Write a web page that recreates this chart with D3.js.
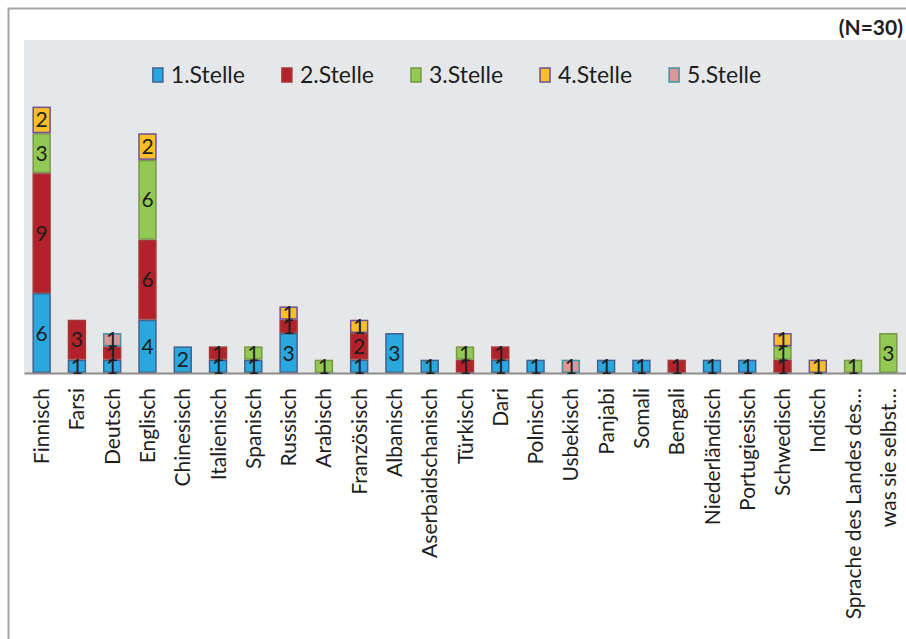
<!DOCTYPE html>
<html>
<head>
<meta charset="utf-8">
<script src="https://cdn.jsdelivr.net/npm/d3@7"></script>
<style>
  body { margin: 0; background: #fff; }
  svg { display: block; }
  text { font-family: Lato, "Open Sans", sans-serif; fill: #1e1e1e; }
</style>
</head>
<body>
<svg id="chart" width="906" height="639"></svg>
<script>
// Sprachen (Kategorien)
const categories = [
  "Finnisch", "Farsi", "Deutsch", "Englisch", "Chinesisch", "Italienisch",
  "Spanisch", "Russisch", "Arabisch", "Französisch", "Albanisch",
  "Aserbaidschanisch", "Türkisch", "Dari", "Polnisch", "Usbekisch", "Panjabi",
  "Somali", "Bengali", "Niederländisch", "Portugiesisch", "Schwedisch",
  "Indisch", "Sprache des Landes des…", "was sie selbst…"
];

// Nennungen je Rangplatz
const stelle1 = [6, 1, 1, 4, 2, 1, 1, 3, 0, 1, 3, 1, 0, 1, 1, 0, 1, 1, 0, 1, 1, 0, 0, 0, 0];
const stelle2 = [9, 3, 1, 6, 0, 1, 0, 1, 0, 2, 0, 0, 1, 1, 0, 0, 0, 0, 1, 0, 0, 1, 0, 0, 0];
const stelle3 = [3, 0, 0, 6, 0, 0, 1, 0, 1, 0, 0, 0, 1, 0, 0, 0, 0, 0, 0, 0, 0, 1, 0, 1, 3];
const stelle4 = [2, 0, 0, 2, 0, 0, 0, 1, 0, 1, 0, 0, 0, 0, 0, 0, 0, 0, 0, 0, 0, 1, 1, 0, 0];
const stelle5 = [0, 0, 1, 0, 0, 0, 0, 0, 0, 0, 0, 0, 0, 0, 0, 1, 0, 0, 0, 0, 0, 0, 0, 0, 0];

const seriesNames = ["1.Stelle", "2.Stelle", "3.Stelle", "4.Stelle", "5.Stelle"];
const seriesValues = [stelle1, stelle2, stelle3, stelle4, stelle5];
const fillColors = ["#2aa7df", "#b3212a", "#92c955", "#f9be2a", "#d89896"];
const strokeColors = ["#42618f", "#a33a3a", "#7a9747", "#6f5192", "#3f93a3"];

const yMax = 25;
const sampleNote = "(N=30)";

// Tabelle für d3.stack
const table = categories.map((c, i) => {
  const row = { category: c };
  seriesNames.forEach((s, k) => { row[s] = seriesValues[k][i]; });
  return row;
});

const svg = d3.select("#chart");
const W = 906, H = 639;
const plot = { left: 24, right: 906, top: 40, bottom: 373 };

// Rahmen
svg.append("path")
  .attr("d", `M8.5,${H} V8.5 H${W}`)
  .attr("fill", "none")
  .attr("stroke", "#a3a3a3")
  .attr("stroke-width", 2);

// Hintergrund der Zeichenfläche
svg.append("rect")
  .attr("x", plot.left).attr("y", plot.top)
  .attr("width", plot.right - plot.left).attr("height", plot.bottom - plot.top)
  .attr("fill", "#e6e7e9");

const x = d3.scaleBand()
  .domain(categories)
  .range([plot.left, plot.right])
  .paddingInner(0.478)
  .paddingOuter(0.239);

const y = d3.scaleLinear().domain([0, yMax]).range([plot.bottom, plot.top]);

const stacked = d3.stack().keys(seriesNames)(table);

const layers = svg.append("g").selectAll("g")
  .data(stacked)
  .join("g")
  .attr("fill", (d, i) => fillColors[i])
  .attr("stroke", (d, i) => strokeColors[i]);

layers.selectAll("rect")
  .data(d => d.filter(p => p[1] > p[0]))
  .join("rect")
  .attr("x", d => x(d.data.category) + 0.75)
  .attr("width", x.bandwidth() - 1.5)
  .attr("y", d => y(d[1]) + 0.75)
  .attr("height", d => y(d[0]) - y(d[1]) - 1.5)
  .attr("stroke-width", 1.5);

// Achse
const xAxis = d3.axisBottom(x).tickSize(0).tickPadding(0);
const gx = svg.append("g")
  .attr("transform", `translate(0,${plot.bottom})`)
  .call(xAxis);
gx.select(".domain").attr("stroke", "#8c8c8c").attr("stroke-width", 2);
gx.selectAll(".tick text")
  .attr("font-size", 21)
  .attr("font-family", "Lato, 'Open Sans', sans-serif")
  .attr("fill", "#1e1e1e")
  .attr("word-spacing", -1)
  .attr("text-anchor", "end")
  .attr("transform", "rotate(-90)")
  .attr("x", -15)
  .attr("y", 0)
  .attr("dy", "0.36em");

// Wertebeschriftungen
const labels = svg.append("g");
stacked.forEach((layer) => {
  labels.selectAll(null)
    .data(layer.filter(p => p[1] > p[0]))
    .join("text")
    .attr("x", d => x(d.data.category) + x.bandwidth() / 2)
    .attr("y", d => (y(d[0]) + y(d[1])) / 2)
    .attr("dy", "0.36em")
    .attr("text-anchor", "middle")
    .attr("font-size", 21)
    .text(d => d[1] - d[0]);
});

// Legende
const legend = svg.append("g").attr("transform", "translate(0,75)");
const items = legend.selectAll("g")
  .data(seriesNames)
  .join("g");
items.append("rect")
  .attr("width", 10).attr("height", 14)
  .attr("y", -7)
  .attr("fill", (d, i) => fillColors[i])
  .attr("stroke", (d, i) => strokeColors[i])
  .attr("stroke-width", 1.5);
items.append("text")
  .attr("x", 18)
  .attr("dy", "0.36em")
  .attr("font-size", 23)
  .text(d => d);
const gap = 37;
let cx = 0;
const offsets = [];
items.each(function () {
  offsets.push(cx);
  cx += this.getBBox().width + gap;
});
const totalW = cx - gap;
const start = 457 - totalW / 2;
items.attr("transform", (d, i) => `translate(${start + offsets[i]},0)`);

// Stichprobengröße
svg.append("text")
  .attr("x", 903).attr("y", 35)
  .attr("text-anchor", "end")
  .attr("font-size", 21)
  .attr("font-weight", "bold")
  .text(sampleNote);
</script>
</body>
</html>
